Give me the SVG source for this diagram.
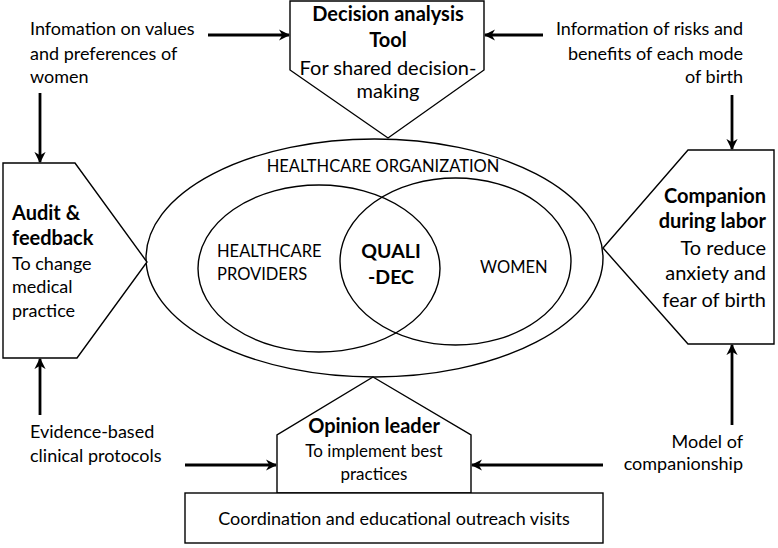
<svg xmlns="http://www.w3.org/2000/svg" width="778" height="548" viewBox="0 0 778 548">
<defs>
<marker id="ah" viewBox="0 0 10 10" refX="9" refY="5" markerWidth="4" markerHeight="4" orient="auto" markerUnits="strokeWidth">
<path d="M0,0 L10,5 L0,10 L3,5 Z" fill="#000"/>
</marker>
</defs>
<style>
text{font-family:Lato,"Liberation Sans",sans-serif;fill:#000;}
.t{font-size:18px;}
.c{font-size:16.5px;}
.b{font-size:20px;font-weight:bold;}
.shape{fill:#fff;stroke:#000;stroke-width:1.4;}
.ell{fill:none;stroke:#000;stroke-width:1.4;}
.arr{stroke:#000;stroke-width:2.8;fill:none;marker-end:url(#ah);}
.m{text-anchor:middle;}
.e{text-anchor:end;}
</style>
<rect width="778" height="548" fill="#fff"/>
<g id="org">
<ellipse class="ell" cx="374.5" cy="258" rx="228.5" ry="119"/>
<text class="c m" x="383" y="172">HEALTHCARE ORGANIZATION</text>
</g>
<g id="providers">
<ellipse class="ell" cx="319" cy="268.5" rx="121" ry="83.5"/>
<text class="c" x="217" y="257">HEALTHCARE</text>
<text class="c" x="217" y="280">PROVIDERS</text>
</g>
<g id="women">
<ellipse class="ell" cx="455.5" cy="261.5" rx="115.5" ry="83.5"/>
<text class="c" x="480" y="273">WOMEN</text>
</g>
<g id="qualidec">
<text class="b m" x="391" y="258" style="font-size:19.5px">QUALI</text>
<text class="b m" x="391" y="284" style="font-size:19.5px">-DEC</text>
</g>
<g id="decision">
<path class="shape" d="M290,1 H484 V70 L388,138 L290,70 Z"/>
<text class="b m" x="388" y="21">Decision analysis</text>
<text class="b m" x="388" y="47">Tool</text>
<text class="t m" x="388" y="75" style="font-size:20px">For shared decision-</text>
<text class="t m" x="388" y="98" style="font-size:20px">making</text>
</g>
<g id="audit">
<path class="shape" d="M3,163 H75 L147,262 L77,358 H3 Z"/>
<text class="b" x="12" y="220">Audit &amp;</text>
<text class="b" x="12" y="245">feedback</text>
<text class="t" x="12" y="270">To change</text>
<text class="t" x="12" y="293">medical</text>
<text class="t" x="12" y="317">practice</text>
</g>
<g id="companion">
<path class="shape" d="M688,150 H774 V344 H688 L603,248 Z"/>
<text class="b e" x="766" y="203">Companion</text>
<text class="b e" x="766" y="228">during labor</text>
<text class="t e" x="766" y="255" style="font-size:20px">To reduce</text>
<text class="t e" x="766" y="280" style="font-size:20px">anxiety and</text>
<text class="t e" x="766" y="307" style="font-size:20px">fear of birth</text>
</g>
<g id="opinion">
<path class="shape" d="M373,377 L471,435 V493 H277 V435 Z"/>
<text class="b m" x="374" y="433">Opinion leader</text>
<text class="t m" x="374" y="457" style="font-size:17px">To implement best</text>
<text class="t m" x="374" y="480" style="font-size:17px">practices</text>
</g>
<g id="coordination">
<rect class="shape" x="185" y="493" width="418" height="50"/>
<text class="t m" x="394" y="525">Coordination and educational outreach visits</text>
</g>
<g id="labels">
<text class="t" x="30" y="35">Infomation on values</text>
<text class="t" x="30" y="60">and preferences of</text>
<text class="t" x="30" y="83">women</text>
<text class="t e" x="743" y="35">Information of risks and</text>
<text class="t e" x="743" y="60">benefits of each mode</text>
<text class="t e" x="743" y="83">of birth</text>
<text class="t" x="30" y="438">Evidence-based</text>
<text class="t" x="30" y="462">clinical protocols</text>
<text class="t e" x="743" y="448">Model of</text>
<text class="t e" x="743" y="470">companionship</text>
</g>
<g id="connectors">
<line class="arr" x1="208" y1="35" x2="289" y2="35"/>
<line class="arr" x1="543" y1="35" x2="485" y2="35"/>
<line class="arr" x1="40" y1="93" x2="40" y2="162"/>
<line class="arr" x1="732" y1="95" x2="732" y2="149"/>
<line class="arr" x1="40" y1="415" x2="40" y2="359"/>
<line class="arr" x1="732" y1="425" x2="732" y2="345"/>
<line class="arr" x1="185" y1="465" x2="276" y2="465"/>
<line class="arr" x1="603" y1="465" x2="472" y2="465"/>
</g>
</svg>
